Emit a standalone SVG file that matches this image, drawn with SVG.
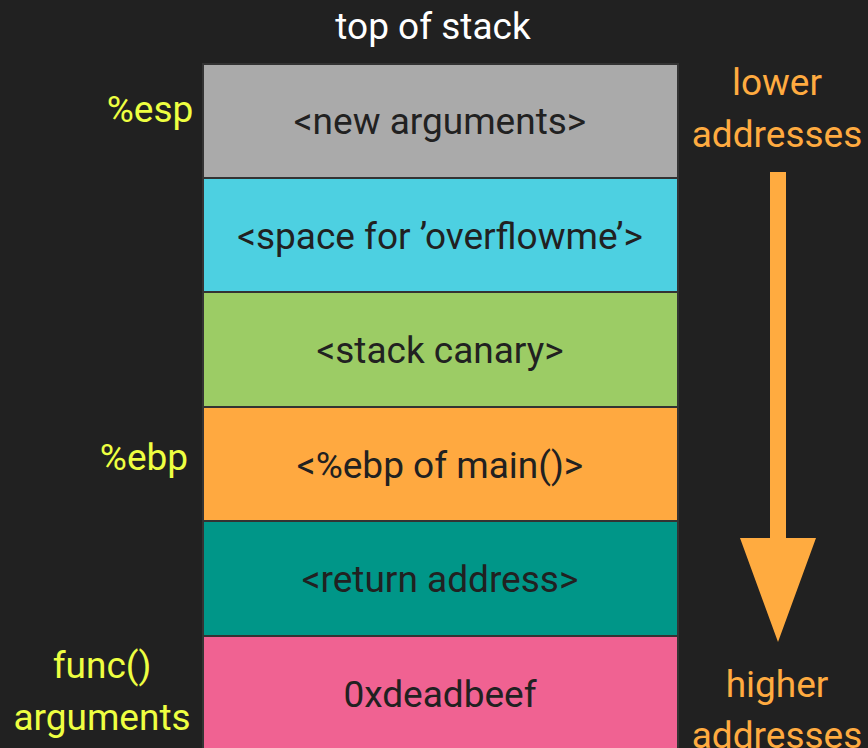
<svg xmlns="http://www.w3.org/2000/svg" width="868" height="748" viewBox="0 0 868 748">
<style>
.bg{fill:#212121}
.box{stroke:#333;stroke-width:2}
text{font-family:Roboto,"Liberation Sans",sans-serif;font-size:37px;text-anchor:middle;dominant-baseline:central}
.bt{fill:#212121}
.wt{fill:#ffffff}
.yl{fill:#eeff41}
.or{fill:#ffab40}
</style>
<rect class="bg" x="0" y="0" width="868" height="748"/>
<text class="wt" x="433" y="26">top of stack</text>
<g id="new-arguments"><rect class="box" x="203" y="64" width="475" height="114" fill="#aaaaaa"/><text class="bt" x="440" y="121">&lt;new arguments&gt;</text></g>
<g id="overflowme"><rect class="box" x="203" y="178" width="475" height="114" fill="#4dd0e1"/><text class="bt" x="440" y="236">&lt;space for ’overflowme’&gt;</text></g>
<g id="canary"><rect class="box" x="203" y="292" width="475" height="115" fill="#9ccc65"/><text class="bt" x="440" y="350">&lt;stack canary&gt;</text></g>
<g id="ebp-main"><rect class="box" x="203" y="407" width="475" height="114" fill="#ffa940"/><text class="bt" x="440" y="465">&lt;%ebp of main()&gt;</text></g>
<g id="return-address"><rect class="box" x="203" y="521" width="475" height="115" fill="#009688"/><text class="bt" x="440" y="579">&lt;return address&gt;</text></g>
<g id="deadbeef"><rect class="box" x="203" y="636" width="475" height="120" fill="#f06292"/><text class="bt" x="440" y="694">0xdeadbeef</text></g>
<g id="labels">
<text class="yl" x="150" y="109">%esp</text>
<text class="yl" x="144" y="457">%ebp</text>
<text class="yl" x="102" y="665">func()</text>
<text class="yl" x="102" y="717">arguments</text>
<text class="or" x="777" y="82">lower</text>
<text class="or" x="777" y="134">addresses</text>
<text class="or" x="777" y="684">higher</text>
<text class="or" x="777" y="735">addresses</text>
</g>
<g id="connectors">
<path d="M770 172 H786 V538 H816 L778 642 L740 538 H770 Z" fill="#ffab40"/>
</g>
</svg>
